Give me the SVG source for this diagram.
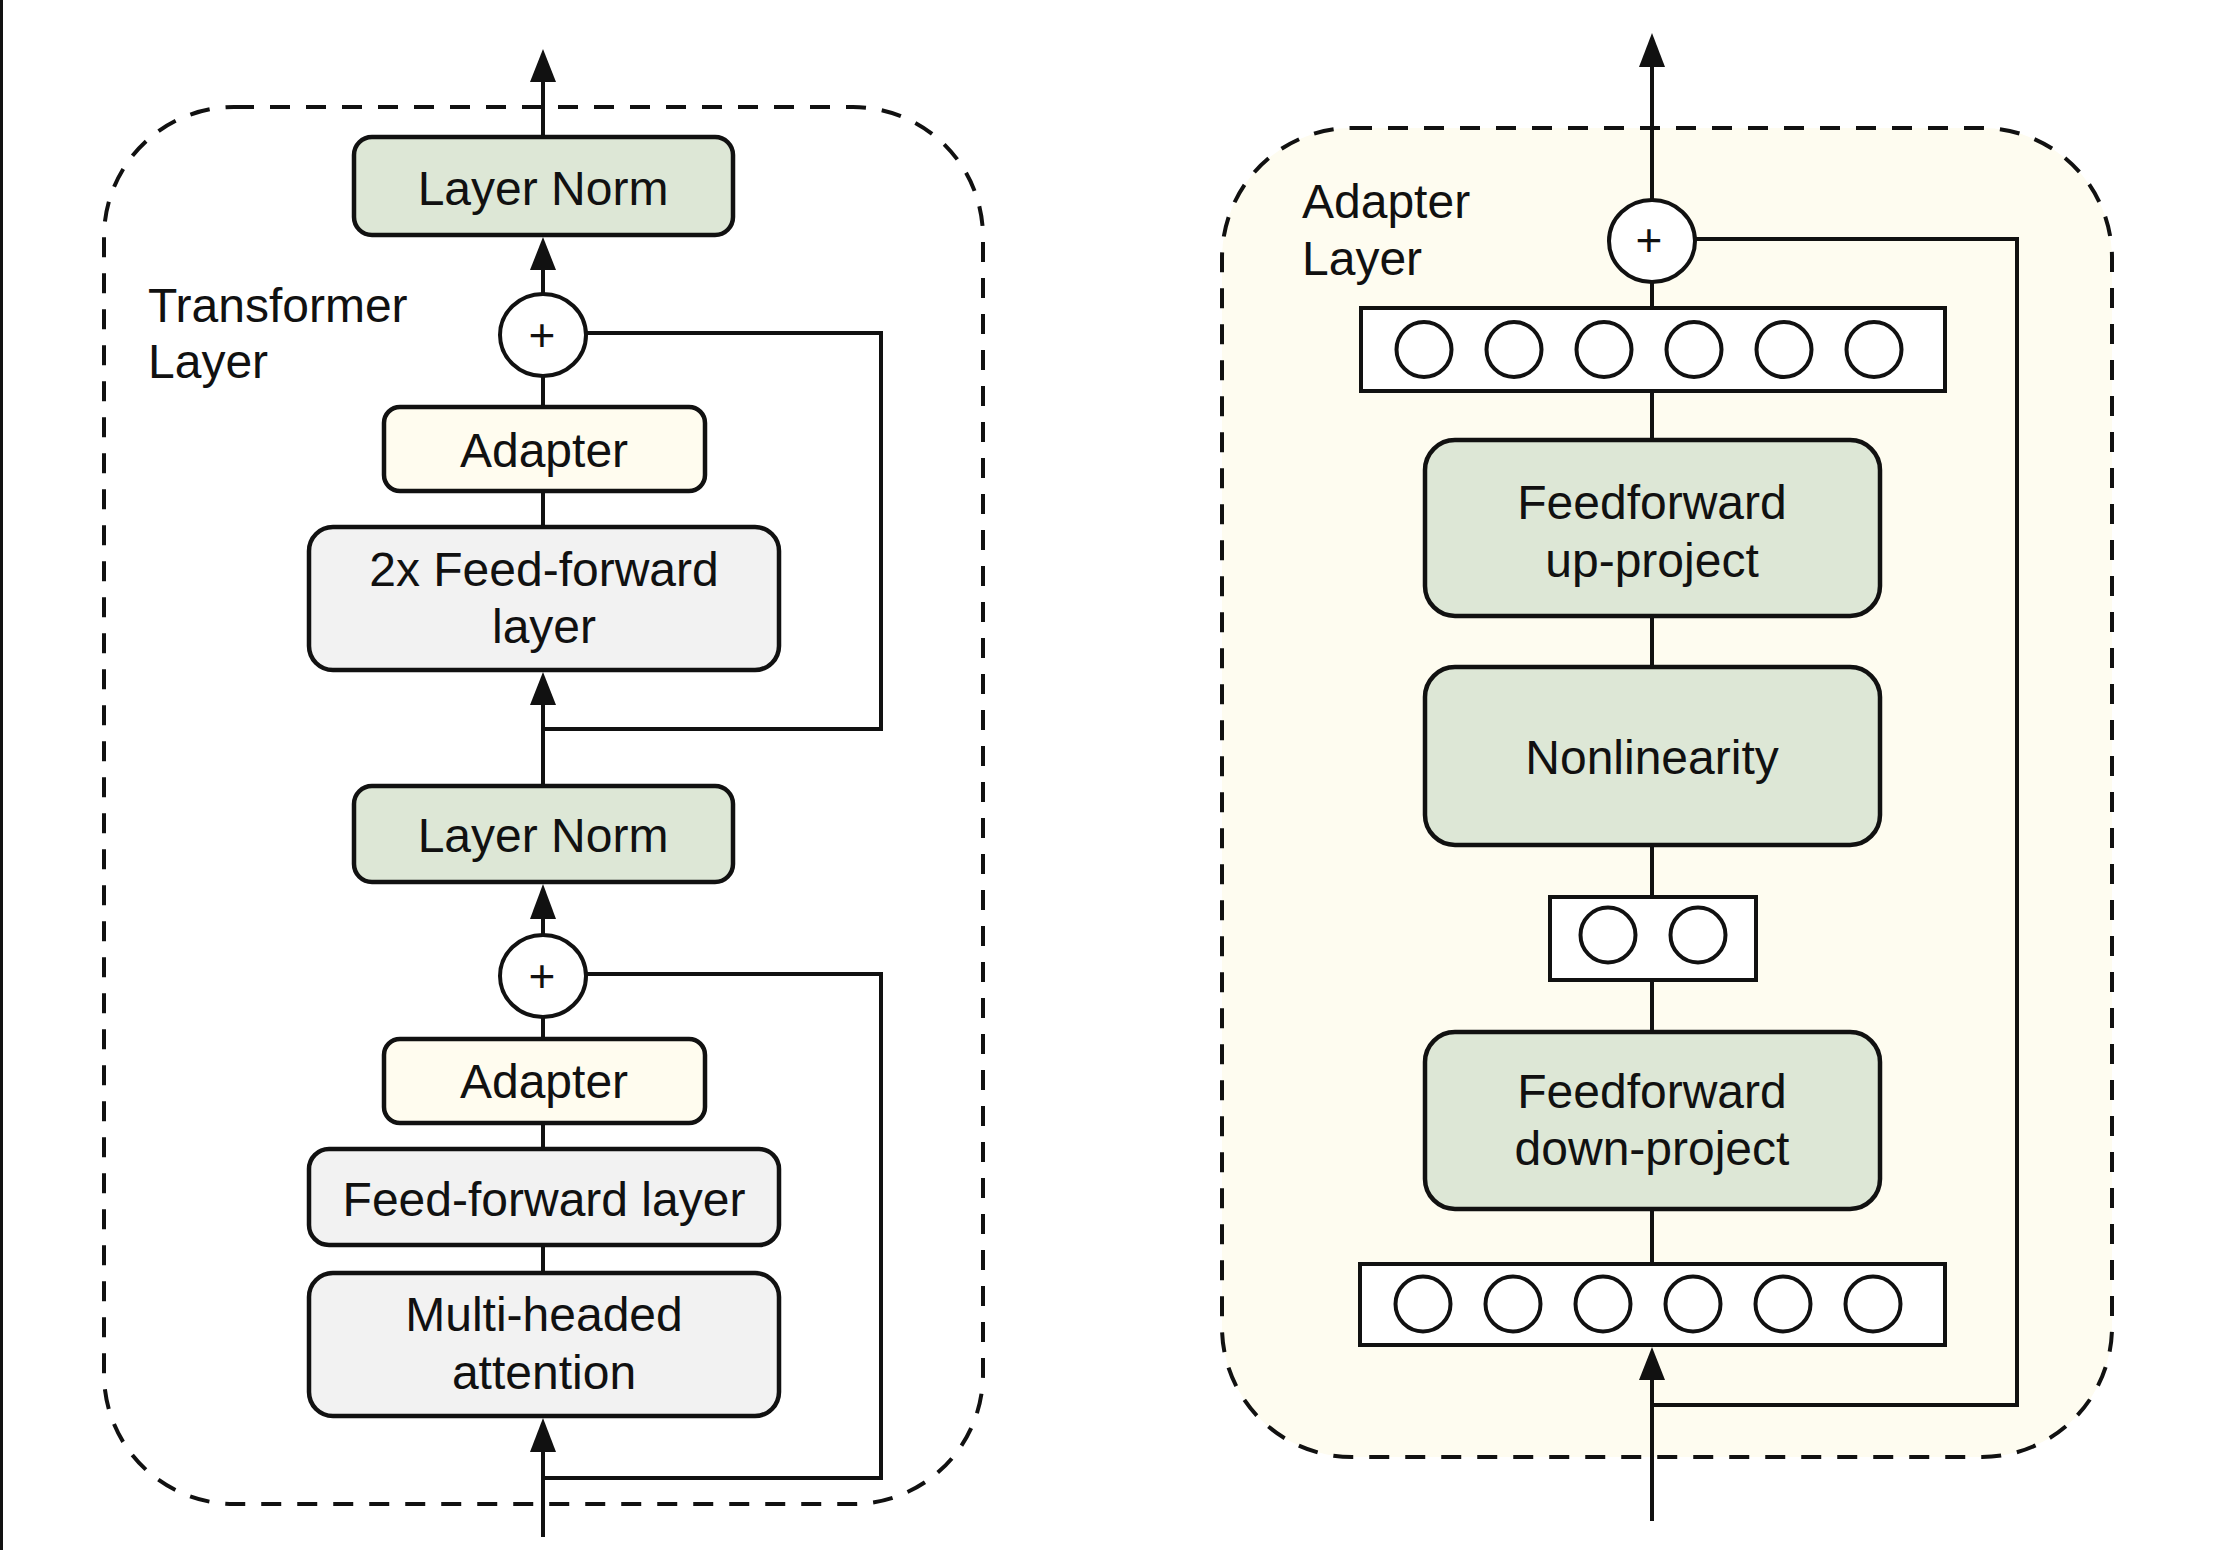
<svg xmlns="http://www.w3.org/2000/svg" width="2222" height="1550" viewBox="0 0 2222 1550">
  <defs>
    <style>
      .frame { fill: none; stroke: #111; stroke-width: 4; stroke-dasharray: 20 16; }
      .box { stroke: #111; stroke-width: 4.5; }
      .green { fill: #dde7d6; }
      .yellow { fill: #fffcef; }
      .gray { fill: #f2f2f2; }
      .bar { fill: #fff; stroke: #111; stroke-width: 4; }
      .unit { fill: #fff; stroke: #111; stroke-width: 4; }
      .sum { fill: #fff; stroke: #111; stroke-width: 4; }
      .wire { fill: none; stroke: #111; stroke-width: 4; }
      .head { fill: #111; }
      text { font-family: "Liberation Sans", Arial, Helvetica, sans-serif; fill: #111; }
      .lbl { font-size: 48px; text-anchor: middle; }
      .title { font-size: 48px; }
      .plus { font-size: 46px; text-anchor: middle; }
    </style>
  </defs>

  <rect x="0" y="0" width="2222" height="1550" fill="#fff"/>
  <rect x="0" y="0" width="3" height="1550" fill="#111"/>

  <!-- Transformer layer frame -->
  <g id="transformer-frame">
    <rect class="frame" x="104" y="107" width="879" height="1397" rx="130" ry="130"/>
    <text class="title" x="148" y="322">Transformer</text>
    <text class="title" x="148" y="378">Layer</text>
  </g>

  <!-- Adapter layer frame -->
  <g id="adapter-frame">
    <rect class="frame" x="1222" y="128" width="890" height="1329" rx="130" ry="130" style="fill:#fefcf0"/>
    <text class="title" x="1302" y="218">Adapter</text>
    <text class="title" x="1302" y="275">Layer</text>
  </g>

  <!-- Connectors -->
  <g id="connectors">
    <!-- transformer layer main path -->
    <line class="wire" x1="543" y1="135" x2="543" y2="80"/>
    <polygon class="head" points="543,49 530,82 556,82"/>
    <line class="wire" x1="543" y1="294" x2="543" y2="268"/>
    <polygon class="head" points="543,237 530,270 556,270"/>
    <line class="wire" x1="543" y1="405" x2="543" y2="376"/>
    <line class="wire" x1="543" y1="525" x2="543" y2="493"/>
    <polyline class="wire" points="586,333 881,333 881,729 543,729"/>
    <line class="wire" x1="543" y1="784" x2="543" y2="703"/>
    <polygon class="head" points="543,672 530,705 556,705"/>
    <line class="wire" x1="543" y1="935" x2="543" y2="917"/>
    <polygon class="head" points="543,884 530,919 556,919"/>
    <line class="wire" x1="543" y1="1037" x2="543" y2="1017"/>
    <line class="wire" x1="543" y1="1147" x2="543" y2="1125"/>
    <line class="wire" x1="543" y1="1271" x2="543" y2="1247"/>
    <line class="wire" x1="543" y1="1537" x2="543" y2="1450"/>
    <polygon class="head" points="543,1418 530,1452 556,1452"/>
    <polyline class="wire" points="586,974 881,974 881,1478 543,1478"/>

    <!-- adapter layer main path -->
    <line class="wire" x1="1652" y1="200" x2="1652" y2="65"/>
    <polygon class="head" points="1652,33 1639,67 1665,67"/>
    <line class="wire" x1="1652" y1="306" x2="1652" y2="281"/>
    <line class="wire" x1="1652" y1="438" x2="1652" y2="393"/>
    <line class="wire" x1="1652" y1="665" x2="1652" y2="618"/>
    <line class="wire" x1="1652" y1="895" x2="1652" y2="847"/>
    <line class="wire" x1="1652" y1="1030" x2="1652" y2="982"/>
    <line class="wire" x1="1652" y1="1262" x2="1652" y2="1211"/>
    <line class="wire" x1="1652" y1="1521" x2="1652" y2="1378"/>
    <polygon class="head" points="1652,1347 1639,1380 1665,1380"/>
    <polyline class="wire" points="1695,239 2017,239 2017,1405 1652,1405"/>
  </g>

  <!-- Transformer layer nodes -->
  <g id="layer-norm-top">
    <rect class="box green" x="354" y="137" width="379" height="98" rx="18"/>
    <text class="lbl" x="543" y="205">Layer Norm</text>
  </g>
  <g id="sum-top">
    <ellipse class="sum" cx="543" cy="335" rx="43" ry="41"/>
    <text class="plus" x="542" y="351">+</text>
  </g>
  <g id="adapter-top">
    <rect class="box yellow" x="384" y="407" width="321" height="84" rx="16"/>
    <text class="lbl" x="544" y="467">Adapter</text>
  </g>
  <g id="ffn-2x">
    <rect class="box gray" x="309" y="527" width="470" height="143" rx="24"/>
    <text class="lbl" x="544" y="586">2x Feed-forward</text>
    <text class="lbl" x="544" y="643">layer</text>
  </g>
  <g id="layer-norm-bottom">
    <rect class="box green" x="354" y="786" width="379" height="96" rx="18"/>
    <text class="lbl" x="543" y="852">Layer Norm</text>
  </g>
  <g id="sum-bottom">
    <ellipse class="sum" cx="543" cy="976" rx="43" ry="41"/>
    <text class="plus" x="542" y="992">+</text>
  </g>
  <g id="adapter-bottom">
    <rect class="box yellow" x="384" y="1039" width="321" height="84" rx="16"/>
    <text class="lbl" x="544" y="1098">Adapter</text>
  </g>
  <g id="ffn">
    <rect class="box gray" x="309" y="1149" width="470" height="96" rx="20"/>
    <text class="lbl" x="544" y="1216">Feed-forward layer</text>
  </g>
  <g id="attention">
    <rect class="box gray" x="309" y="1273" width="470" height="143" rx="24"/>
    <text class="lbl" x="544" y="1331">Multi-headed</text>
    <text class="lbl" x="544" y="1389">attention</text>
  </g>

  <!-- Adapter layer nodes -->
  <g id="adapter-sum">
    <ellipse class="sum" cx="1652" cy="241" rx="43" ry="41"/>
    <text class="plus" x="1649" y="256">+</text>
  </g>
  <g id="output-units">
    <rect class="bar" x="1361" y="308" width="584" height="83"/>
    <circle class="unit" cx="1424" cy="349.5" r="27.5"/>
    <circle class="unit" cx="1514" cy="349.5" r="27.5"/>
    <circle class="unit" cx="1604" cy="349.5" r="27.5"/>
    <circle class="unit" cx="1694" cy="349.5" r="27.5"/>
    <circle class="unit" cx="1784" cy="349.5" r="27.5"/>
    <circle class="unit" cx="1874" cy="349.5" r="27.5"/>
  </g>
  <g id="up-project">
    <rect class="box green" x="1425" y="440" width="455" height="176" rx="30"/>
    <text class="lbl" x="1652" y="519">Feedforward</text>
    <text class="lbl" x="1652" y="577">up-project</text>
  </g>
  <g id="nonlinearity">
    <rect class="box green" x="1425" y="667" width="455" height="178" rx="30"/>
    <text class="lbl" x="1652" y="774">Nonlinearity</text>
  </g>
  <g id="bottleneck-units">
    <rect class="bar" x="1550" y="897" width="206" height="83"/>
    <circle class="unit" cx="1608" cy="935" r="27.5"/>
    <circle class="unit" cx="1698" cy="935" r="27.5"/>
  </g>
  <g id="down-project">
    <rect class="box green" x="1425" y="1032" width="455" height="177" rx="30"/>
    <text class="lbl" x="1652" y="1108">Feedforward</text>
    <text class="lbl" x="1652" y="1165">down-project</text>
  </g>
  <g id="input-units">
    <rect class="bar" x="1360" y="1264" width="585" height="81"/>
    <circle class="unit" cx="1423" cy="1304" r="27.5"/>
    <circle class="unit" cx="1513" cy="1304" r="27.5"/>
    <circle class="unit" cx="1603" cy="1304" r="27.5"/>
    <circle class="unit" cx="1693" cy="1304" r="27.5"/>
    <circle class="unit" cx="1783" cy="1304" r="27.5"/>
    <circle class="unit" cx="1873" cy="1304" r="27.5"/>
  </g>
</svg>
